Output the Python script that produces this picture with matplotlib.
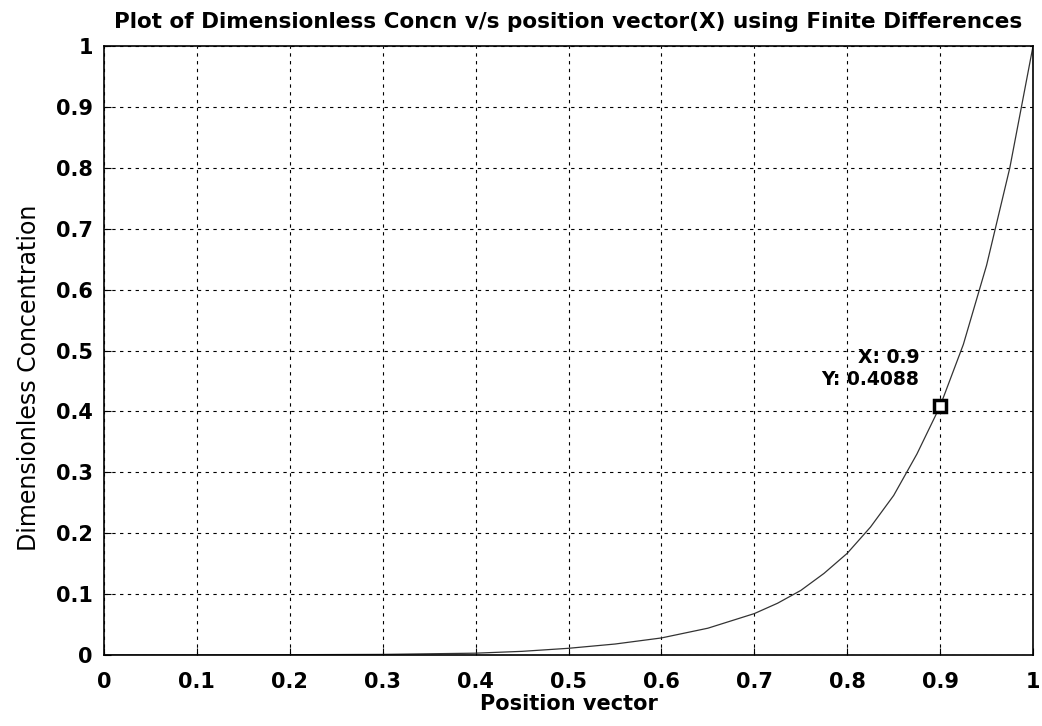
import matplotlib
matplotlib.use("Agg")
from matplotlib import pyplot as plt

# values
position = [0.0, 0.1, 0.2, 0.3, 0.4, 0.45, 0.5, 0.55, 0.6, 0.65, 0.7, 0.725, 0.75,
            0.775, 0.8, 0.825, 0.85, 0.875, 0.9, 0.925, 0.95, 0.975, 1.0]
concentration = [0.0, 0.0, 0.0005, 0.001, 0.003, 0.006, 0.011, 0.018, 0.028, 0.044,
                 0.068, 0.085, 0.106, 0.134, 0.167, 0.21, 0.262, 0.33, 0.4088, 0.51,
                 0.64, 0.80, 1.0]
tip_x = 0.9
tip_y = 0.4088
ticks = [0, 0.1, 0.2, 0.3, 0.4, 0.5, 0.6, 0.7, 0.8, 0.9, 1]
tick_labels = ["0", "0.1", "0.2", "0.3", "0.4", "0.5", "0.6", "0.7", "0.8", "0.9", "1"]

plt.rcParams['font.family'] = ['DejaVu Sans']

fig = plt.figure(figsize=(10.42, 7.26), dpi=100)
ax = fig.add_axes([0.0998, 0.0978, 0.8916, 0.8388])

ax.plot(position, concentration, color="#333333", lw=0.9)
ax.plot([tip_x], [tip_y], marker="s", ms=9, mfc="white", mec="black", mew=2.5, ls="none")
ax.annotate("X: 0.9\nY: 0.4088", xy=(tip_x, tip_y), xytext=(-15, 12),
            textcoords="offset points", ha="right", va="bottom",
            fontsize=13.5, fontweight="bold", linespacing=1.25)

ax.set_xlim(0, 1)
ax.set_ylim(0, 1)
ax.set_xticks(ticks)
ax.set_xticklabels(tick_labels)
ax.set_yticks(ticks)
ax.set_yticklabels(tick_labels)
ax.tick_params(direction="in", length=5, labelsize=15, top=False, right=False)
ax.tick_params(axis="x", pad=12)
ax.tick_params(axis="y", pad=8)
for lab in ax.get_xticklabels() + ax.get_yticklabels():
    lab.set_fontweight("bold")

ax.grid(True, color="black", linestyle=(0, (3, 4)), lw=0.8)
for s in ax.spines.values():
    s.set_linewidth(1.2)

ax.set_title("Plot of Dimensionless Concn v/s position vector(X) using Finite Differences",
             fontsize=15.5, fontweight="bold", pad=13)
ax.set_xlabel("Position vector", fontsize=15, fontweight="bold", labelpad=2)
ax.set_ylabel("Dimensionless Concentration", fontsize=17, labelpad=10)
ax.yaxis.set_label_coords(-0.068, 0.455)

fig.savefig("out.png", dpi=100)
